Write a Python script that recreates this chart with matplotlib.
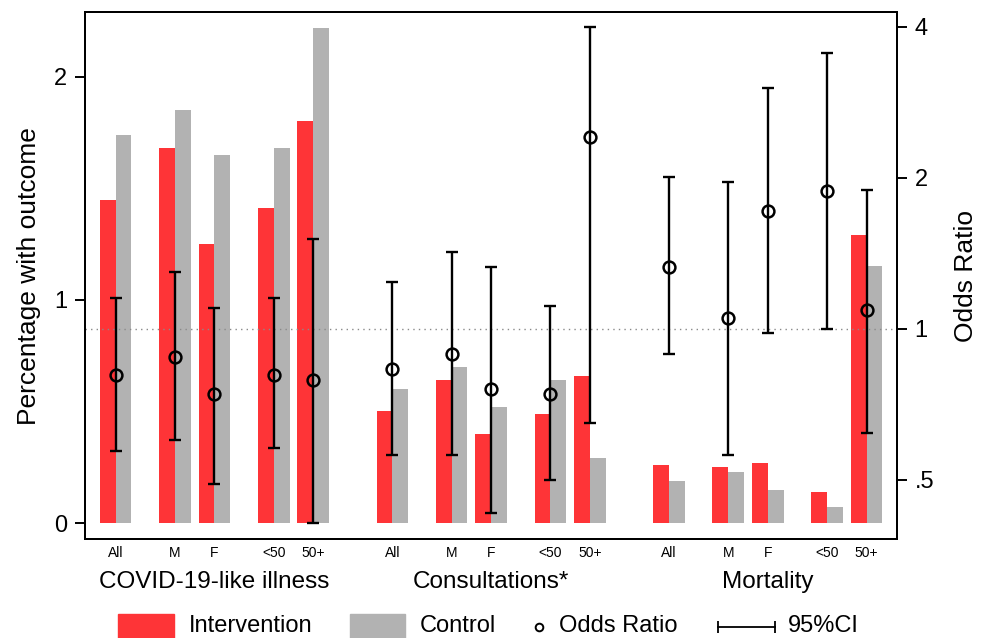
import numpy as np
import matplotlib
matplotlib.use('Agg')
import matplotlib.pyplot as plt
from matplotlib.patches import Rectangle
from matplotlib.lines import Line2D
from matplotlib.ticker import FixedLocator, NullLocator

plt.rcParams['font.family'] = ['Liberation Sans', 'DejaVu Sans']

subgroups = ['All', 'M', 'F', '<50', '50+']
outcomes = ['COVID-19-like illness', 'Consultations*', 'Mortality']

# percentage with outcome (left axis)
intervention = [1.45, 1.68, 1.25, 1.41, 1.80,
                0.50, 0.64, 0.40, 0.49, 0.66,
                0.26, 0.25, 0.27, 0.14, 1.29]
control = [1.74, 1.85, 1.65, 1.68, 2.22,
           0.60, 0.70, 0.52, 0.64, 0.29,
           0.19, 0.23, 0.15, 0.07, 1.15]

# odds ratios and 95% CI (right axis, log scale)
odds = [0.81, 0.88, 0.74, 0.81, 0.79,
        0.83, 0.89, 0.76, 0.74, 2.41,
        1.33, 1.05, 1.72, 1.88, 1.09]
ci_lo = [0.57, 0.60, 0.49, 0.58, 0.41,
         0.56, 0.56, 0.43, 0.50, 0.65,
         0.89, 0.56, 0.98, 1.00, 0.62]
ci_hi = [1.15, 1.30, 1.10, 1.15, 1.51,
         1.24, 1.42, 1.33, 1.11, 3.99,
         2.01, 1.96, 3.02, 3.55, 1.89]

red = '#fe3437'
grey = '#b2b2b2'

W, H = 991, 638

# slot positions inside a group, groups spaced 14 slots apart
base = np.array([0, 3, 5, 8, 10])
x = np.concatenate([base + 14 * i for i in range(len(outcomes))])

fig = plt.figure(figsize=(W / 100, H / 100), dpi=100)
ax = fig.add_axes([0.0858, 0.155, 0.819, 0.826])

ax.bar(x - 0.4, intervention, width=0.8, color=red, zorder=2)
ax.bar(x + 0.4, control, width=0.8, color=grey, zorder=2)

ax.set_xlim(-1.55, 39.52)
ax.set_ylim(-0.072, 2.29)
ax.set_yticks([0, 1, 2])
ax.set_yticklabels(['0', '1', '2'], fontsize=17)
ax.tick_params(axis='y', direction='out', length=7, width=1.4, pad=6)
ax.set_xticks(x)
ax.set_xticklabels(subgroups * len(outcomes), fontsize=10)
ax.tick_params(axis='x', length=0, pad=5)
ax.set_ylabel('Percentage with outcome', fontsize=19, labelpad=9)

for i, name in enumerate(outcomes):
    ax.text(5 + 14 * i, -0.093, name, fontsize=17.5, ha='center',
            va='baseline', transform=ax.get_xaxis_transform())

ax2 = ax.twinx()
ax2.set_yscale('log', base=2)
ax2.set_ylim(0.381, 4.28)
ax2.yaxis.set_major_locator(FixedLocator([0.5, 1, 2, 4]))
ax2.yaxis.set_minor_locator(NullLocator())
ax2.set_yticklabels(['.5', '1', '2', '4'], fontsize=17)
ax2.tick_params(axis='y', direction='out', length=7, width=1.4, pad=6)
ax2.set_ylabel('Odds Ratio', fontsize=19, labelpad=14)

ax2.axhline(1, color='#8a8a8a', lw=1, ls=(0, (1, 3)), zorder=1)

odds_a = np.array(odds)
yerr = [odds_a - np.array(ci_lo), np.array(ci_hi) - odds_a]
ax2.errorbar(x, odds_a, yerr=yerr, fmt='none', ecolor='black',
             elinewidth=1.7, capsize=4.5, capthick=1.7, zorder=3)
ax2.plot(x, odds_a, 'o', ms=8.5, mfc='none', mec='black', mew=1.8, zorder=4)

for a in (ax, ax2):
    for s in a.spines.values():
        s.set_linewidth(1.4)

# legend row along the bottom edge (laid out in pixels)
def fx(px):
    return px / W

def fy(py):
    return 1 - py / H

ly = 626
fig.add_artist(Rectangle((fx(118), fy(640)), fx(174) - fx(118), fy(614) - fy(640),
                         transform=fig.transFigure, color=red))
fig.text(fx(189), fy(ly), 'Intervention', fontsize=17, va='center')
fig.add_artist(Rectangle((fx(350), fy(640)), fx(405) - fx(350), fy(614) - fy(640),
                         transform=fig.transFigure, color=grey))
fig.text(fx(420), fy(ly), 'Control', fontsize=17, va='center')
fig.add_artist(Line2D([fx(539)], [fy(ly + 1)], transform=fig.transFigure,
                      marker='o', ms=5.5, mfc='none', mec='black', mew=1.4))
fig.text(fx(559), fy(ly), 'Odds Ratio', fontsize=17, va='center')
fig.add_artist(Line2D([fx(718), fx(775)], [fy(ly + 1), fy(ly + 1)],
                      transform=fig.transFigure, color='black', lw=1.3,
                      marker='|', ms=8, mew=1.3))
fig.text(fx(788), fy(ly), '95%CI', fontsize=17, va='center')

fig.savefig('out.png', dpi=100)
